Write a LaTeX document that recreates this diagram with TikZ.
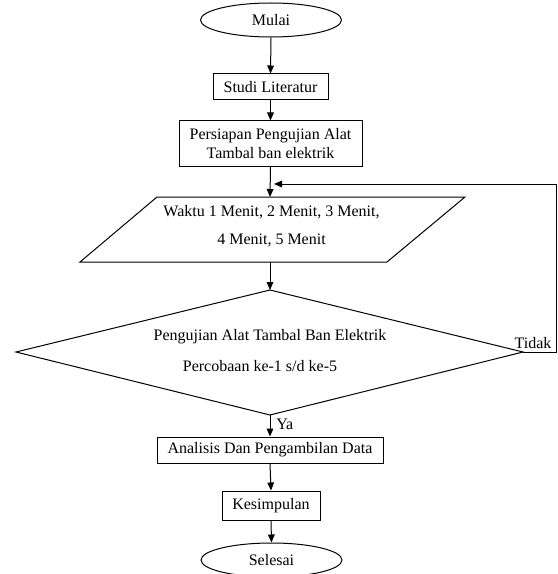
\documentclass[tikz,border=0pt]{standalone}
\usepackage{fontspec}
\setmainfont{Liberation Serif}
\usetikzlibrary{arrows.meta,shapes.geometric}
\begin{document}
\begin{tikzpicture}[x=0.75pt,y=-0.75pt,
  every node/.style={font=\fontsize{12}{14}\selectfont},
  proc/.style={draw, line width=0.75pt, rectangle, inner sep=0pt, align=center},
  term/.style={draw, line width=0.75pt, ellipse, inner sep=0pt},
  arr/.style={line width=0.75pt, -{Triangle[length=6pt,width=5pt]}},
  ln/.style={line width=0.75pt}]
\useasboundingbox (0,0) rectangle (557,574);
\begin{scope}
\clip (0,0) rectangle (557,574);
% nodes
\node[term, minimum width=105.75pt, minimum height=25.5pt] (mulai) at (271,20) {Mulai};
\node[proc, minimum width=86.25pt, minimum height=19.5pt] (studi) at (270.5,87) {Studi Literatur};
\node[proc, minimum width=137.25pt, minimum height=33.75pt] (persiapan) at (270.5,143.5) {Persiapan Pengujian Alat\\Tambal ban elektrik};
% parallelogram
\coordinate (pTL) at (157,197);
\coordinate (pTR) at (465,197);
\coordinate (pBR) at (387,262);
\coordinate (pBL) at (80,262);
\draw[ln] (pTL) -- (pTR) -- (pBR) -- (pBL) -- cycle;
\coordinate (paraT) at (270,197);
\coordinate (paraB) at (270,262);
\node[align=center, font=\fontsize{12}{21}\selectfont] (waktu) at (271.5,226) {Waktu 1 Menit, 2 Menit, 3 Menit,\\4 Menit, 5 Menit};
% diamond
\coordinate (dT) at (270,290);
\coordinate (dR) at (523,352);
\coordinate (dB) at (270,415);
\coordinate (dL) at (16,352);
\draw[ln] (dT) -- (dR) -- (dB) -- (dL) -- cycle;
\node (uji1) at (270,337) {Pengujian Alat Tambal Ban Elektrik};
\node (uji2) at (260,366) {Percobaan ke-1 s/d ke-5};
\node[proc, minimum width=169.5pt, minimum height=19.5pt] (analisis) at (270,450) {Analisis Dan Pengambilan Data};
\node[proc, minimum width=73.5pt, minimum height=21.75pt] (kesimpulan) at (271,505.5) {Kesimpulan};
\node[term, minimum width=105.75pt, minimum height=25.5pt] (selesai) at (271.5,560) {Selesai};
% feedback corners
\coordinate (fbR) at (556,352);
\coordinate (fbT) at (556,184);
\coordinate (fbEnd) at (274,184);
% connectors
\draw[arr] (mulai.south) -- (studi.north);
\draw[arr] (studi.south) -- (persiapan.north);
\draw[arr] (persiapan.south) -- (paraT);
\draw[arr] (paraB) -- (dT);
\draw[arr] (dB) -- node[right, xshift=1pt, yshift=1pt] (ya) {Ya} (analisis.north);
\draw[arr] (analisis.south) -- (kesimpulan.north);
\draw[arr] (kesimpulan.south) -- (selesai.north);
\draw[ln] (dR) -- (fbR) -- (fbT);
\draw[arr] (fbT) -- (fbEnd);
\node (tidak) at (533,343) {Tidak};
\end{scope}
\end{tikzpicture}
\end{document}
